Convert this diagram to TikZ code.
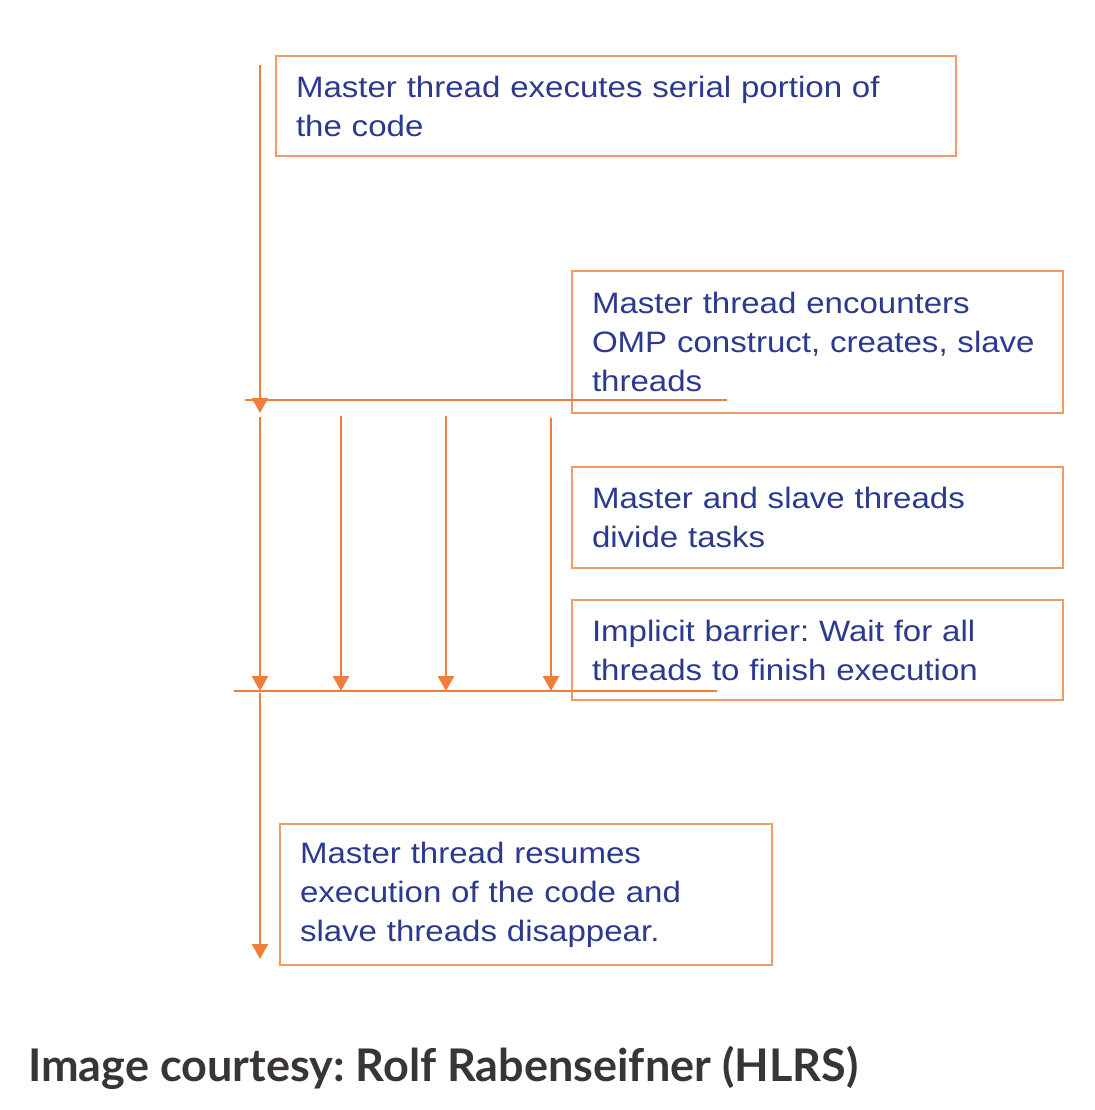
\documentclass[tikz,border=0pt]{standalone}
\usepackage{fontspec}
\setmainfont{Liberation Sans}[FakeStretch=1.12]
\newfontfamily\capfont{Lato}
\usepackage{xcolor}
\definecolor{thread}{HTML}{EF7D3C}
\definecolor{frame}{HTML}{F39A62}
\definecolor{txt}{HTML}{2B3A8E}
\definecolor{courtesy}{HTML}{383438}
\usetikzlibrary{arrows.meta}
\usetikzlibrary{positioning}
\frenchspacing

\begin{document}
\begin{tikzpicture}[x=1pt,y=-1pt,
  step box/.style={draw=frame, line width=2pt, anchor=north west, inner xsep=20pt, inner ysep=0pt,
    align=left, text=txt, font=\fontsize{29.5}{39}\selectfont},
  thread line/.style={draw=thread, line width=2.6pt},
  thread arrow/.style={thread line, -{Triangle[width=16pt,length=15pt]}}]

\useasboundingbox (0,0) rectangle (1094,1110);

% Boxes
  \node[step box, text width=640pt, minimum height=100pt] (serial) at (275,55) {Master thread executes serial portion of\\the code};
  \node[step box, text width=451pt, minimum height=142pt] (fork) at (571,270) {Master thread encounters\\OMP construct, creates, slave\\threads};
  \node[step box, text width=451pt, minimum height=101pt] (divide) at (571,466) {Master and slave threads\\divide tasks};
  \node[step box, text width=451pt, minimum height=100pt] (barrier) at (571,599) {Implicit barrier: Wait for all\\threads to finish execution};
  \node[step box, text width=452pt, minimum height=141pt] (resume) at (279,823) {Master thread resumes\\execution of the code and\\slave threads disappear.};

% Thread ends
  \coordinate (m0) at (260,65);
  \coordinate (m1) at (260,413);
  \coordinate (m2) at (260,417);
  \coordinate (m3) at (260,691);
  \coordinate (m4) at (260,693);
  \coordinate (m5) at (260,959);
  \coordinate (s1a) at (341,416);
  \coordinate (s1b) at (341,691);
  \coordinate (s2a) at (446,416);
  \coordinate (s2b) at (446,691);
  \coordinate (s3a) at (551,418);
  \coordinate (s3b) at (551,691);
  \coordinate (f0) at (245,400);
  \coordinate (f1) at (727,400);
  \coordinate (j0) at (234,691);
  \coordinate (j1) at (717,691);

% Fork and join lines
  \draw[thread line] (f0) -- (f1);
  \draw[thread line] (j0) -- (j1);

% Master thread
  \draw[thread arrow] (m0) -- (m1);
  \draw[thread arrow] (m2) -- (m3);
  \draw[thread arrow] (m4) -- (m5);

% Slave threads
  \draw[thread arrow] (s1a) -- (s1b);
  \draw[thread arrow] (s2a) -- (s2b);
  \draw[thread arrow] (s3a) -- (s3b);

  \node[anchor=base west, inner sep=0pt, text=courtesy, font=\capfont\bfseries\fontsize{45}{50}\selectfont] (credit) at (28,1081) {Image courtesy: Rolf Rabenseifner (HLRS)};

\end{tikzpicture}
\end{document}
